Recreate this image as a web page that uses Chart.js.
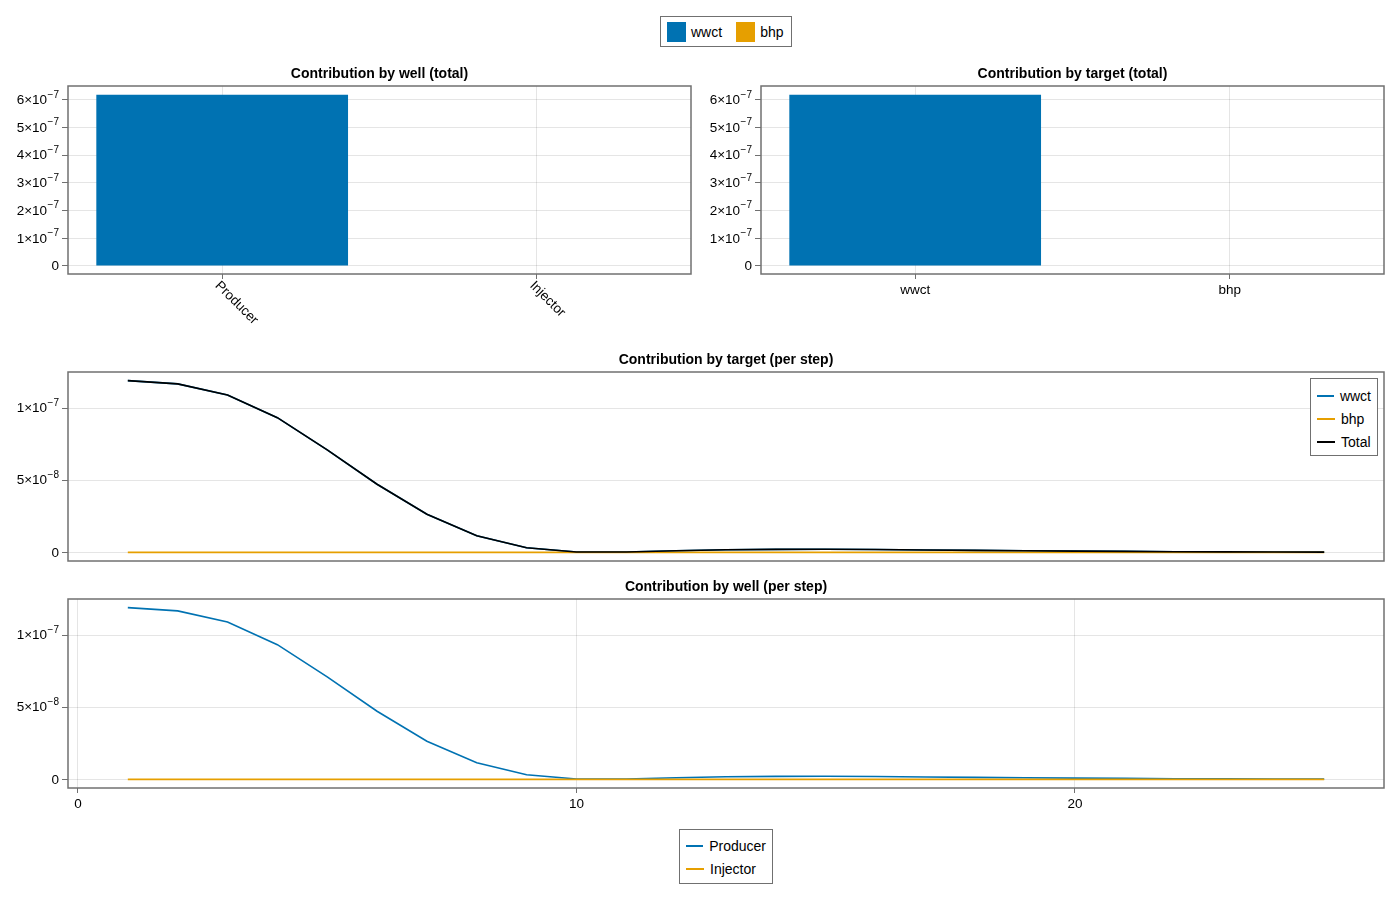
<!DOCTYPE html>
<html>
<head>
<meta charset="utf-8">
<script src="https://cdn.jsdelivr.net/npm/chart.js@4.4.1/dist/chart.umd.min.js"></script>
<style>
  body { margin: 0; background: #fff; font-family: "Liberation Sans", Arial, sans-serif; }
  #fig { position: relative; width: 1400px; height: 900px; overflow: hidden; }
  canvas { position: absolute; }
  .legend { position: absolute; border: 1.5px solid #707070; background: #fff; font-size: 14px; color: #000; box-sizing: border-box; }
  .legend .item { display: flex; align-items: center; }
  .legend .patch { width: 19px; height: 20px; margin-right: 5px; }
  .legend .line { width: 18px; height: 2px; margin-right: 6px; }
</style>
</head>
<body>
<div id="fig">
  <canvas id="wellTotal" width="700" height="280" style="left:0;top:60px"></canvas>
  <canvas id="targetTotal" width="700" height="280" style="left:700px;top:60px"></canvas>
  <canvas id="targetStep" width="1400" height="240" style="left:0;top:340px"></canvas>
  <canvas id="wellStep" width="1400" height="240" style="left:0;top:580px"></canvas>
  <div id="legendTop" class="legend" style="left:660px;top:16px;width:132px;height:31px;display:flex;align-items:center;padding:0 6px;"></div>
  <div id="legendTarget" class="legend" style="left:1310px;top:378px;width:68px;height:78px;padding:5px 6px;"></div>
  <div id="legendWell" class="legend" style="left:679px;top:829px;width:94px;height:55px;padding:4px 6px;"></div>
</div>
<script>
// ---- data ----
const wells = ['Producer', 'Injector'];
const targets = ['wwct', 'bhp'];
const targetColors = ['#0072B2', '#E69F00'];

// total contribution per well, split by target
const wellTotalWwct = [6.18e-7, 0];
const wellTotalBhp = [0, 0];
// total contribution per target
const targetTotals = [6.18e-7, 0];

const steps = [1, 2, 3, 4, 5, 6, 7, 8, 9, 10, 11, 12, 13, 14, 15, 16, 17, 18, 19, 20, 21, 22, 23, 24, 25];
const wwctPerStep = [1.19e-7, 1.167e-7, 1.09e-7, 9.33e-8, 7.1e-8, 4.72e-8, 2.64e-8, 1.15e-8, 3.2e-9, 3e-10,
  3e-10, 1.2e-9, 1.8e-9, 2.1e-9, 2.2e-9, 2.0e-9, 1.7e-9, 1.4e-9, 1.1e-9, 9e-10,
  7e-10, 5e-10, 4e-10, 3e-10, 2e-10];
const bhpPerStep = [0, 0, 0, 0, 0, 0, 0, 0, 0, 0, 0, 0, 0, 0, 0, 0, 0, 0, 0, 0, 0, 0, 0, 0, 0];
const totalPerStep = [1.19e-7, 1.167e-7, 1.09e-7, 9.33e-8, 7.1e-8, 4.72e-8, 2.64e-8, 1.15e-8, 3.2e-9, 3e-10,
  3e-10, 1.2e-9, 1.8e-9, 2.1e-9, 2.2e-9, 2.0e-9, 1.7e-9, 1.4e-9, 1.1e-9, 9e-10,
  7e-10, 5e-10, 4e-10, 3e-10, 2e-10];
const producerPerStep = [1.19e-7, 1.167e-7, 1.09e-7, 9.33e-8, 7.1e-8, 4.72e-8, 2.64e-8, 1.15e-8, 3.2e-9, 3e-10,
  3e-10, 1.2e-9, 1.8e-9, 2.1e-9, 2.2e-9, 2.0e-9, 1.7e-9, 1.4e-9, 1.1e-9, 9e-10,
  7e-10, 5e-10, 4e-10, 3e-10, 2e-10];
const injectorPerStep = [0, 0, 0, 0, 0, 0, 0, 0, 0, 0, 0, 0, 0, 0, 0, 0, 0, 0, 0, 0, 0, 0, 0, 0, 0];

// tick labels (mantissa part and superscript exponent)
const totalTickValues = [0, 1e-7, 2e-7, 3e-7, 4e-7, 5e-7, 6e-7];
const totalTickBases = ['0', '1×10', '2×10', '3×10', '4×10', '5×10', '6×10'];
const totalTickExps = ['', '−7', '−7', '−7', '−7', '−7', '−7'];
const stepTickValues = [0, 5e-8, 1e-7];
const stepTickBases = ['0', '5×10', '1×10'];
const stepTickExps = ['', '−8', '−7'];
const stepXTicks = [0, 10, 20];

// ---- styling helpers ----
const FONT = '"Liberation Sans", Arial, sans-serif';
Chart.defaults.font.family = FONT;
Chart.defaults.color = '#000';
const SPINE = '#707070';
const GRID = 'rgba(0,0,0,0.1)';
const TICKFONT = { size: 13.5 };

const frame = {
  id: 'frame',
  afterDraw(chart, args, opts) {
    const { ctx, chartArea: a } = chart;
    ctx.save();
    ctx.strokeStyle = SPINE;
    ctx.lineWidth = 1.5;
    ctx.strokeRect(a.left, a.top, a.right - a.left, a.bottom - a.top);
    if (opts.title) {
      ctx.fillStyle = '#000';
      ctx.font = 'bold 14px ' + FONT;
      ctx.textAlign = 'center';
      ctx.textBaseline = 'middle';
      ctx.fillText(opts.title, (a.left + a.right) / 2, a.top - 12);
    }
    ctx.restore();
  }
};

// y labels like 6×10⁻⁷ with a real raised exponent
const sciTicks = {
  id: 'sciTicks',
  afterDraw(chart, args, opts) {
    if (!opts.values) return;
    const { ctx, chartArea: a } = chart;
    const sy = chart.scales.y;
    ctx.save();
    ctx.fillStyle = '#000';
    ctx.textAlign = 'right';
    ctx.textBaseline = 'middle';
    opts.values.forEach((v, i) => {
      const y = sy.getPixelForValue(v);
      let x = a.left - 9;
      if (opts.exps[i]) {
        ctx.font = '10px ' + FONT;
        ctx.fillText(opts.exps[i], x, y - 5);
        x -= ctx.measureText(opts.exps[i]).width + 0.5;
      }
      ctx.font = '13.5px ' + FONT;
      ctx.fillText(opts.bases[i], x, y + 0.5);
    });
    ctx.restore();
  }
};

// x labels turned 45 degrees clockwise, starting at the tick
const slantLabels = {
  id: 'slantLabels',
  afterDraw(chart) {
    const { ctx, chartArea: a } = chart;
    const sx = chart.scales.x;
    ctx.save();
    ctx.fillStyle = '#000';
    ctx.font = '13.5px ' + FONT;
    ctx.textAlign = 'left';
    ctx.textBaseline = 'middle';
    sx.ticks.forEach((t, i) => {
      ctx.save();
      ctx.translate(sx.getPixelForValue(t.value) - 5, a.bottom + 9.5);
      ctx.rotate(Math.PI / 4);
      ctx.fillText(wells[i], 0, 0);
      ctx.restore();
    });
    ctx.restore();
  }
};

function yAxis(min, max, values, width) {
  return {
    min, max,
    border: { display: false },
    grid: { color: GRID, tickColor: SPINE, tickLength: 6, lineWidth: 1 },
    ticks: { display: false },
    afterBuildTicks: s => { s.ticks = values.map(v => ({ value: v })); },
    afterFit: s => { s.width = width; }
  };
}

function catXAxis(names, height, showLabels) {
  return {
    type: 'linear', min: 0.51, max: 2.49, offset: false, stacked: true,
    border: { display: false },
    grid: { color: GRID, tickColor: SPINE, tickLength: 5, offset: false },
    ticks: { display: showLabels, font: TICKFONT, padding: 3, maxRotation: 0, callback: (v, i) => names[i] },
    afterBuildTicks: s => { s.ticks = [1, 2].map(v => ({ value: v })); },
    afterFit: s => { s.height = height; }
  };
}

const pts = arr => steps.map((s, i) => ({ x: s, y: arr[i] }));
const totalTicks = { values: totalTickValues, bases: totalTickBases, exps: totalTickExps };
const stepTicks = { values: stepTickValues, bases: stepTickBases, exps: stepTickExps };

// ---- top left: contribution by well (total) ----
new Chart(document.getElementById('wellTotal'), {
  type: 'bar',
  data: {
    datasets: [
      { label: targets[0], data: wells.map((w, i) => ({ x: i + 1, y: wellTotalWwct[i] })), backgroundColor: targetColors[0] },
      { label: targets[1], data: wells.map((w, i) => ({ x: i + 1, y: wellTotalBhp[i] })), backgroundColor: targetColors[1] }
    ]
  },
  options: {
    responsive: false, animation: false,
    layout: { padding: { left: 0, top: 26, right: 9, bottom: 0 } },
    datasets: { bar: { categoryPercentage: 1, barPercentage: 0.8 } },
    plugins: {
      legend: { display: false }, tooltip: { enabled: false },
      frame: { title: 'Contribution by well (total)' }, sciTicks: totalTicks
    },
    scales: {
      x: catXAxis(wells, 66, false),
      y: Object.assign(yAxis(-0.29e-7, 6.5e-7, totalTickValues, 68), { stacked: true })
    }
  },
  plugins: [frame, sciTicks, slantLabels]
});

// ---- top right: contribution by target (total) ----
new Chart(document.getElementById('targetTotal'), {
  type: 'bar',
  data: {
    datasets: [
      { label: 'total', data: targets.map((t, i) => ({ x: i + 1, y: targetTotals[i] })), backgroundColor: targetColors }
    ]
  },
  options: {
    responsive: false, animation: false,
    layout: { padding: { left: 0, top: 26, right: 16, bottom: 0 } },
    datasets: { bar: { categoryPercentage: 1, barPercentage: 0.8 } },
    plugins: {
      legend: { display: false }, tooltip: { enabled: false },
      frame: { title: 'Contribution by target (total)' }, sciTicks: totalTicks
    },
    scales: {
      x: catXAxis(targets, 66, true),
      y: Object.assign(yAxis(-0.29e-7, 6.5e-7, totalTickValues, 61), { stacked: true })
    }
  },
  plugins: [frame, sciTicks]
});

// ---- middle: contribution by target (per step) ----
new Chart(document.getElementById('targetStep'), {
  type: 'line',
  data: {
    datasets: [
      { label: 'wwct', data: pts(wwctPerStep), borderColor: targetColors[0], order: 2 },
      { label: 'bhp', data: pts(bhpPerStep), borderColor: targetColors[1], order: 1 },
      { label: 'Total', data: pts(totalPerStep), borderColor: '#000', order: 0 }
    ]
  },
  options: {
    responsive: false, animation: false,
    layout: { padding: { left: 0, top: 32, right: 16, bottom: 0 } },
    elements: { point: { radius: 0 }, line: { borderWidth: 1.6, tension: 0 } },
    plugins: {
      legend: { display: false }, tooltip: { enabled: false },
      frame: { title: 'Contribution by target (per step)' }, sciTicks: stepTicks
    },
    scales: {
      x: {
        type: 'linear', min: -0.2, max: 26.2,
        border: { display: false },
        grid: { display: false },
        ticks: { display: false },
        afterFit: s => { s.height = 19; }
      },
      y: yAxis(-0.0595e-7, 1.2495e-7, stepTickValues, 68)
    }
  },
  plugins: [frame, sciTicks]
});

// ---- bottom: contribution by well (per step) ----
new Chart(document.getElementById('wellStep'), {
  type: 'line',
  data: {
    datasets: [
      { label: 'Producer', data: pts(producerPerStep), borderColor: targetColors[0], order: 1 },
      { label: 'Injector', data: pts(injectorPerStep), borderColor: targetColors[1], order: 0 }
    ]
  },
  options: {
    responsive: false, animation: false,
    layout: { padding: { left: 0, top: 19, right: 16, bottom: 0 } },
    elements: { point: { radius: 0 }, line: { borderWidth: 1.6, tension: 0 } },
    plugins: {
      legend: { display: false }, tooltip: { enabled: false },
      frame: { title: 'Contribution by well (per step)' }, sciTicks: stepTicks
    },
    scales: {
      x: {
        type: 'linear', min: -0.2, max: 26.2,
        border: { display: false },
        grid: { color: GRID, tickColor: SPINE, tickLength: 5 },
        ticks: { font: TICKFONT, padding: 3, callback: v => String(v) },
        afterBuildTicks: s => { s.ticks = stepXTicks.map(v => ({ value: v })); },
        afterFit: s => { s.height = 32; }
      },
      y: yAxis(-0.0595e-7, 1.2495e-7, stepTickValues, 68)
    }
  },
  plugins: [frame, sciTicks]
});

// ---- legends ----
function patchItem(name, color, gap) {
  return `<div class="item" style="margin-right:${gap}px"><span class="patch" style="background:${color}"></span>${name}</div>`;
}
function lineItem(name, color, h) {
  return `<div class="item" style="height:${h}px"><span class="line" style="background:${color}"></span>${name}</div>`;
}
document.getElementById('legendTop').innerHTML =
  targets.map((t, i) => patchItem(t, targetColors[i], i === 0 ? 14 : 0)).join('');
document.getElementById('legendTarget').innerHTML =
  ['wwct', 'bhp', 'Total'].map((t, i) => lineItem(t, [targetColors[0], targetColors[1], '#000'][i], 23)).join('');
document.getElementById('legendWell').innerHTML =
  wells.map((w, i) => lineItem(w, targetColors[i], 23)).join('');
</script>
</body>
</html>
